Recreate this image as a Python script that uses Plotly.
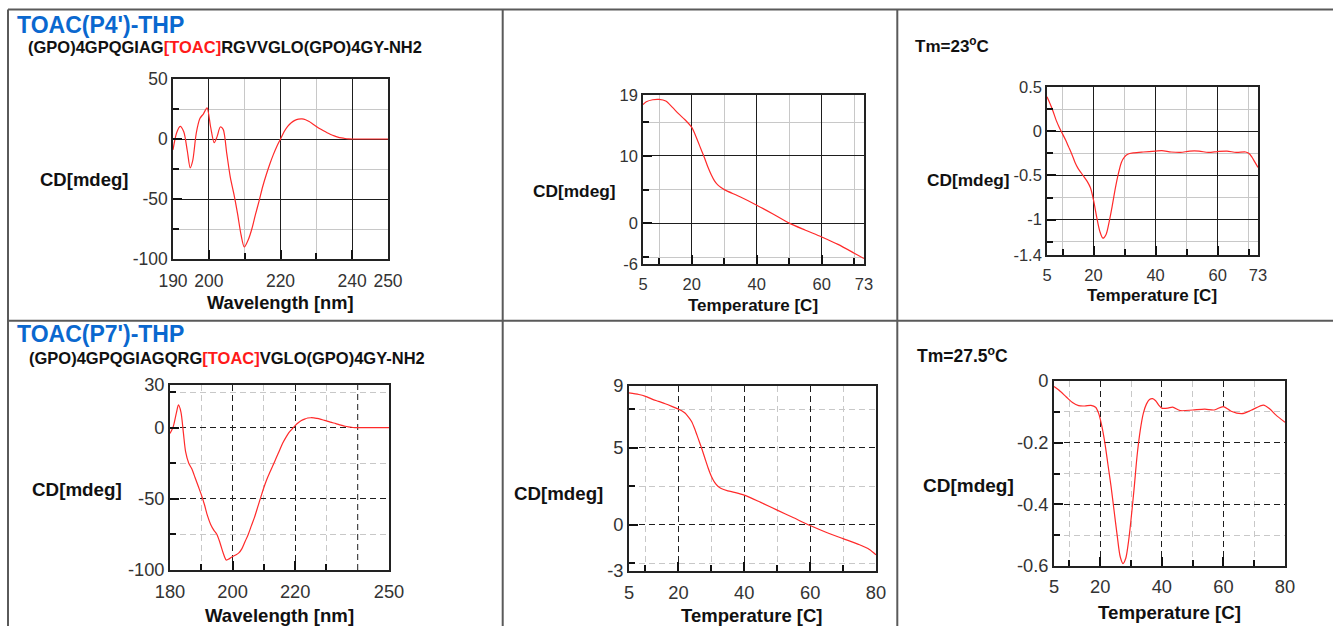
import plotly.graph_objects as go

W, H = 1333, 626
FONT = "Liberation Sans, Arial, sans-serif"

# ---------------- data ----------------
# Panel 1: TOAC(P4')-THP CD spectrum
p1_wl = [190, 191, 192, 193, 194, 194.8, 195.5, 196.5, 197.5, 198.5, 199.5, 200.5, 201.5, 202.3,
         203.2, 204, 205, 206, 207, 208, 209, 209.9, 211, 212, 213, 214, 215, 216, 217, 218, 219,
         220, 221, 222, 223, 224, 225, 226, 227, 228, 229, 230, 231, 232, 233, 234, 235, 236, 237,
         238, 239, 240, 242, 245, 250]
p1_cd = [-9, 5, 10.5, 6, -10, -24, -18, 5, 17, 21, 26, 10, -3, 2,
         10, 8, -12, -32, -46, -62, -80, -90, -84, -75, -63, -52, -40, -30, -21, -13, -6,
         0, 6, 10.5, 13.5, 15.5, 16.5, 16.7, 16, 14.5, 12.5, 10.5, 8.5, 6.8, 5.2, 3.8, 2.6, 1.6, 0.9,
         0.4, 0.1, 0, 0, 0, 0]

# Panel 2: TOAC(P4')-THP melting curve
p2_t = [5, 6, 8, 10, 12, 14, 16, 18, 20, 21, 22, 23, 24, 25, 26, 27, 28, 29, 30, 35, 40, 45, 50,
        55, 60, 65, 70, 73]
p2_cd = [17.6, 18.0, 18.3, 18.35, 18.1, 17.2, 16.2, 15.3, 14.2, 13.2, 12.0, 10.8, 9.6, 8.3, 7.2,
         6.3, 5.7, 5.3, 5.0, 3.9, 2.7, 1.4, 0.05, -1.0, -2.0, -3.1, -4.4, -5.2]

# Panel 3: TOAC(P4')-THP derivative
p3_t = [5, 6, 7, 8, 9, 10, 11, 12, 13, 14, 15, 16, 17, 18, 19, 20, 21, 22, 23, 24, 25, 26, 27, 28,
        29, 30, 31, 33, 36, 40, 42, 45, 48, 51, 54, 57, 60, 63, 66, 69, 70, 71, 72, 73]
p3_cd = [0.39, 0.31, 0.22, 0.12, 0.04, -0.03, -0.10, -0.18, -0.26, -0.35, -0.42, -0.47, -0.52,
         -0.57, -0.64, -0.78, -0.97, -1.13, -1.21, -1.17, -1.03, -0.85, -0.65, -0.48, -0.35, -0.29,
         -0.26, -0.245, -0.235, -0.225, -0.22, -0.235, -0.24, -0.225, -0.225, -0.24, -0.23, -0.225,
         -0.24, -0.235, -0.25, -0.29, -0.35, -0.41]

# Panel 4: TOAC(P7')-THP CD spectrum
p4_wl = [180, 181, 182, 182.7, 183.5, 184.3, 185, 186, 187, 188, 189, 190, 191, 192, 193, 194, 195,
         196, 197, 198, 199, 200, 201, 202, 203, 204, 205, 206, 207, 208, 209, 210, 211, 212, 213,
         214, 215, 216, 217, 218, 219, 220, 221, 222, 223, 224, 225, 226, 227, 228, 229, 230, 231,
         232, 233, 234, 235, 236, 237, 238, 239, 240, 245, 250]
p4_cd = [-4, 0.5, 10, 16, 11, -4, -17, -25, -29, -35, -41, -47, -54, -62, -68, -72, -75,
         -81, -88, -93, -92, -90.5, -89.5, -88, -85, -80, -75, -69, -63, -56, -49, -42, -36, -31, -26,
         -21, -16, -11, -7, -3.5, -1, 1.5, 3.5, 5, 6, 6.8, 7, 6.9, 6.5, 6, 5.4, 4.8, 4.1,
         3.5, 2.9, 2.2, 1.6, 1.0, 0.6, 0.3, 0.1, 0, 0, 0]

# Panel 5: TOAC(P7')-THP melting curve
p5_t = [5, 8, 10, 12, 14, 16, 18, 20, 21, 22, 23, 24, 25, 26, 27, 28, 29, 30, 31, 32, 33, 35, 37,
        40, 45, 50, 55, 60, 65, 70, 75, 78, 80]
p5_cd = [8.55, 8.45, 8.33, 8.15, 8.0, 7.85, 7.68, 7.5, 7.4, 7.25, 7.0, 6.7, 6.2, 5.6, 5.0, 4.35,
         3.7, 3.15, 2.75, 2.5, 2.35, 2.2, 2.1, 1.92, 1.45, 0.95, 0.45, -0.05, -0.5, -0.9, -1.3,
         -1.6, -1.95]

# Panel 6: TOAC(P7')-THP derivative
p6_t = [5, 7, 9, 11, 13, 15, 17, 18.5, 19.5, 20.5, 21.5, 22.5, 23.5, 24.5, 25.5, 26.5, 27.4, 28.3,
        29.2, 30, 31, 32, 33, 34, 35, 36, 37, 38, 39, 40, 42, 43.5, 46, 50, 54, 57, 60, 62.5, 66,
        69, 73, 75, 77, 80]
p6_cd = [-0.018, -0.033, -0.052, -0.07, -0.08, -0.081, -0.079, -0.085, -0.105, -0.145, -0.2,
         -0.27, -0.34, -0.42, -0.5, -0.57, -0.592, -0.575, -0.52, -0.45, -0.35, -0.24, -0.16,
         -0.105, -0.075, -0.06, -0.057, -0.064, -0.078, -0.088, -0.088, -0.085, -0.096, -0.094,
         -0.091, -0.094, -0.083, -0.098, -0.106, -0.095, -0.078, -0.09, -0.11, -0.134]

# ticks
p1_xticks = [190, 200, 220, 240, 250]
p1_xlabels = ["190", "200", "220", "240", "250"]
p1_xminor = [210, 230]
p1_yticks = [50, 0, -50, -100]
p1_ylabels = ["50", "0", "-50", "-100"]
p1_yminor = [25, -25, -75]

p2_xticks = [5, 20, 40, 60, 73]
p2_xlabels = ["5", "20", "40", "60", "73"]
p2_xminor = [10, 30, 50, 70]
p2_yticks = [19, 10, 0, -6]
p2_ylabels = ["19", "10", "0", "-6"]
p2_yminor = [15, 5, -5]

p3_xticks = [5, 20, 40, 60, 73]
p3_xlabels = ["5", "20", "40", "60", "73"]
p3_xminor = [10, 30, 50, 70]
p3_yticks = [0.5, 0, -0.5, -1, -1.4]
p3_ylabels = ["0.5", "0", "-0.5", "-1", "-1.4"]
p3_yminor = [0.25, -0.25, -0.75, -1.25]

p4_xticks = [180, 200, 220, 250]
p4_xlabels = ["180", "200", "220", "250"]
p4_xextra = [240]          # major grid line without a label
p4_xminor = [190, 210, 230]
p4_yticks = [30, 0, -50, -100]
p4_ylabels = ["30", "0", "-50", "-100"]
p4_yminor = [25, -25, -75]

p5_xticks = [5, 20, 40, 60, 80]
p5_xlabels = ["5", "20", "40", "60", "80"]
p5_xminor = [10, 30, 50, 70]
p5_yticks = [9, 5, 0, -3]
p5_ylabels = ["9", "5", "0", "-3"]
p5_yminor = [7.5, 2.5, -2.5]

p6_xticks = [5, 20, 40, 60, 80]
p6_xlabels = ["5", "20", "40", "60", "80"]
p6_xminor = [10, 30, 50, 70]
p6_yticks = [0, -0.2, -0.4, -0.6]
p6_ylabels = ["0", "-0.2", "-0.4", "-0.6"]
p6_yminor = [-0.1, -0.3, -0.5]

# ---------------- layout helpers ----------------
def fx(px):
    return px / W

def fy(py):
    return 1 - py / H

panels = [
    dict(x=p1_wl, y=p1_cd, box=(173, 388, 79, 259), xr=(190, 250), yr=(-100, 50),
         xt=p1_xticks, xl=p1_xlabels, xm=p1_xminor, yt=p1_yticks, yl=p1_ylabels, ym=p1_yminor,
         dash="solid", fs=17.5, xe=[], so=5),
    dict(x=p2_t, y=p2_cd, box=(643, 864, 95, 264), xr=(5, 73), yr=(-6, 19),
         xt=p2_xticks, xl=p2_xlabels, xm=p2_xminor, yt=p2_yticks, yl=p2_ylabels, ym=p2_yminor,
         dash="solid", fs=16.5, xe=[], so=4),
    dict(x=p3_t, y=p3_cd, box=(1047, 1258, 87, 255), xr=(5, 73), yr=(-1.4, 0.5),
         xt=p3_xticks, xl=p3_xlabels, xm=p3_xminor, yt=p3_yticks, yl=p3_ylabels, ym=p3_yminor,
         dash="solid", fs=16.5, xe=[], so=4),
    dict(x=p4_wl, y=p4_cd, box=(170, 389, 385, 570), xr=(180, 250), yr=(-100, 30),
         xt=p4_xticks, xl=p4_xlabels, xm=p4_xminor, yt=p4_yticks, yl=p4_ylabels, ym=p4_yminor,
         dash="6px,4px", fs=18.3, xe=p4_xextra, so=4),
    dict(x=p5_t, y=p5_cd, box=(629, 876, 386, 571), xr=(5, 80), yr=(-3, 9),
         xt=p5_xticks, xl=p5_xlabels, xm=p5_xminor, yt=p5_yticks, yl=p5_ylabels, ym=p5_yminor,
         dash="6px,4px", fs=18.3, xe=[], so=4),
    dict(x=p6_t, y=p6_cd, box=(1054, 1285, 381, 566), xr=(5, 80), yr=(-0.6, 0),
         xt=p6_xticks, xl=p6_xlabels, xm=p6_xminor, yt=p6_yticks, yl=p6_ylabels, ym=p6_yminor,
         dash="6px,4px", fs=18.3, xe=[], so=3),
]

fig = go.Figure()
layout = dict(
    width=W, height=H, margin=dict(l=0, r=0, t=0, b=0, pad=0, autoexpand=False),
    paper_bgcolor="white", plot_bgcolor="white", showlegend=False,
    font=dict(family=FONT, color="#333"),
)

MAJOR = "#1e1e1e"
MINOR = "#c8c8c8"
shapes = []

for i, p in enumerate(panels, start=1):
    xa = "xaxis" if i == 1 else f"xaxis{i}"
    ya = "yaxis" if i == 1 else f"yaxis{i}"
    xref = "x" if i == 1 else f"x{i}"
    yref = "y" if i == 1 else f"y{i}"
    x0, x1, y0, y1 = p["box"]
    common = dict(
        showline=True, mirror=True, linecolor="#222", linewidth=1.6,
        showgrid=True, gridcolor=MAJOR, gridwidth=1, griddash=p["dash"],
        zeroline=False, ticks="inside", ticklen=9, tickcolor="#111", tickwidth=1.5,
        tickfont=dict(family=FONT, size=p["fs"], color="#333"),
        fixedrange=True, automargin=False,
    )
    layout[xa] = dict(
        common, domain=[fx(x0), fx(x1)], range=list(p["xr"]), anchor=yref,
        tickmode="array", tickvals=p["xt"], ticktext=p["xl"], ticklabelstandoff=p["so"],
        minor=dict(tickmode="array", tickvals=p["xm"], showgrid=True, gridcolor=MINOR,
                   gridwidth=1, griddash=p["dash"], ticks="inside", ticklen=6,
                   tickcolor="#111", tickwidth=1.5),
    )
    layout[ya] = dict(
        common, domain=[fy(y1), fy(y0)], range=list(p["yr"]), anchor=xref,
        tickmode="array", tickvals=p["yt"], ticktext=p["yl"],
        minor=dict(tickmode="array", tickvals=p["ym"], showgrid=True, gridcolor=MINOR,
                   gridwidth=1, griddash=p["dash"], ticks="inside", ticklen=6,
                   tickcolor="#111", tickwidth=1.5),
    )
    for xv in p["xe"]:
        shapes.append(dict(type="line", xref=xref, yref=f"{yref} domain", x0=xv, x1=xv,
                           y0=0, y1=1, layer="below",
                           line=dict(color=MAJOR, width=1, dash=p["dash"])))
    fig.add_trace(go.Scatter(
        x=p["x"], y=p["y"], mode="lines", xaxis=xref, yaxis=yref,
        line=dict(color="#ff2a2a", width=1.2, shape="spline", smoothing=0.8),
        hoverinfo="skip",
    ))

# table borders
BORDER = "#5a5a5a"
def hline(py, px0, px1):
    shapes.append(dict(type="line", xref="paper", yref="paper", x0=fx(px0), x1=fx(px1),
                       y0=fy(py), y1=fy(py), line=dict(color=BORDER, width=2)))
def vline(px, py0, py1):
    shapes.append(dict(type="line", xref="paper", yref="paper", x0=fx(px), x1=fx(px),
                       y0=fy(py0), y1=fy(py1), line=dict(color=BORDER, width=2)))
hline(9.5, 8, W)
hline(320.7, 8, W)
vline(8, 9.5, H)
vline(502.7, 9.5, H)
vline(897.3, 9.5, H)
layout["shapes"] = shapes

# text annotations
annos = []
def text(s, px, py, size, anchor="center", color="#111"):
    annos.append(dict(text=s, x=fx(px), y=fy(py), xref="paper", yref="paper",
                      xanchor=anchor, yanchor="middle", showarrow=False,
                      font=dict(family=FONT, size=size, color=color)))

BLUE = "#0a68cf"
RED = "#ff1a1a"
text("<b>TOAC(P4')-THP</b>", 15, 24.5, 23, "left", BLUE)
text("<b>(GPO)4GPQGIAG<span style='color:%s'>[TOAC]</span>RGVVGLO(GPO)4GY-NH2</b>" % RED,
     26, 46.5, 16.5, "left")
text("<b>TOAC(P7')-THP</b>", 15, 334, 23, "left", BLUE)
text("<b>(GPO)4GPQGIAGQRG<span style='color:%s'>[TOAC]</span>VGLO(GPO)4GY-NH2</b>" % RED,
     27, 357.5, 16.5, "left")
text("<b>Tm=23<sup>o</sup>C</b>", 913, 45.3, 17, "left")
text("<b>Tm=27.5<sup>o</sup>C</b>", 915, 355.3, 17.5, "left")

text("<b>CD[mdeg]</b>", 83.5, 179.7, 18.5)
text("<b>Wavelength [nm]</b>", 280, 302.5, 18.3)
text("<b>CD[mdeg]</b>", 574.7, 190.8, 17.3)
text("<b>Temperature [C]</b>", 752.8, 305, 17)
text("<b>CD[mdeg]</b>", 968.7, 180, 17.3)
text("<b>Temperature [C]</b>", 1151.7, 295, 17)
text("<b>CD[mdeg]</b>", 77, 489, 18.8)
text("<b>Wavelength [nm]</b>", 279, 615.8, 18.6)
text("<b>CD[mdeg]</b>", 558, 493.3, 18.7)
text("<b>Temperature [C]</b>", 751.7, 615.8, 18.5)
text("<b>CD[mdeg]</b>", 968, 485.8, 19)
text("<b>Temperature [C]</b>", 1169.2, 612, 18.7)
layout["annotations"] = annos

fig.update_layout(**layout)
fig.write_html("out.html", config={"displayModeBar": False})
